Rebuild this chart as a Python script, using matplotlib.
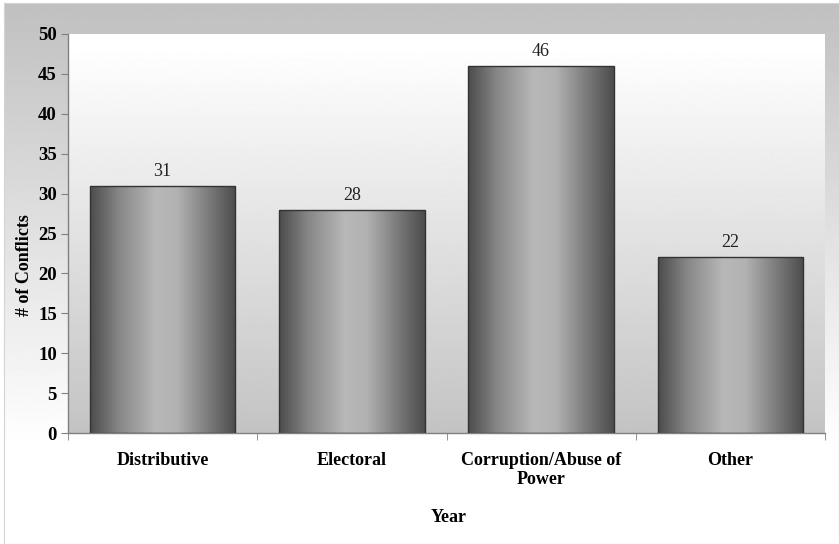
import numpy as np
import matplotlib
matplotlib.use('Agg')
import matplotlib.pyplot as plt
from matplotlib.colors import LinearSegmentedColormap

categories = ['Distributive', 'Electoral', 'Corruption/Abuse of\nPower', 'Other']
conflicts = [31, 28, 46, 22]
yticks = list(range(0, 55, 5))

plt.rcParams['font.family'] = ['Liberation Serif', 'DejaVu Serif']

W, H = 839, 544
fig = plt.figure(figsize=(W / 100, H / 100), dpi=100)
fig.patch.set_facecolor('white')


def px(l, t, r, b):
    # pixel box -> figure fraction rect
    return [l / W, 1 - b / H, (r - l) / W, (b - t) / H]


# outer chart area: grey at the top fading to white
chart = fig.add_axes(px(4, 3, 839, 544), zorder=-2)
rows = np.linspace(0, 1, 400)
outer = np.clip(0.753 + (1 - 0.753) * rows / 0.82, 0, 1)
chart.imshow(outer[:, None], cmap='gray', vmin=0, vmax=1, aspect='auto',
             extent=[0, 1, 0, 1], interpolation='bilinear')
chart.set_xticks([])
chart.set_yticks([])
for s in chart.spines.values():
    s.set_color('#d4d4d4')

# plot area: white at the top fading to grey
pos = px(68, 34, 825, 433)
back = fig.add_axes(pos, zorder=-1)
inner = np.clip(1.0 - 0.235 * (rows - 0.03) / 0.97, 0, 1)
back.imshow(inner[:, None], cmap='gray', vmin=0, vmax=1, aspect='auto',
            extent=[0, 1, 0, 1], interpolation='bilinear')
back.axis('off')

ax = fig.add_axes(pos, zorder=1)
ax.set_facecolor('none')

x = np.arange(len(categories))
width = 0.77
bars = ax.bar(x, conflicts, width, facecolor='none', edgecolor='#333333',
              linewidth=1.0, zorder=3)

bar_cmap = LinearSegmentedColormap.from_list(
    'cyl', [(0.0, '#4c4c4c'), (0.2, '#878787'), (0.45, '#b8b8b8'),
            (0.6, '#b2b2b2'), (0.85, '#727272'), (1.0, '#4c4c4c')])
shade = np.linspace(0, 1, 256)[None, :]
for b, v in zip(bars, conflicts):
    img = ax.imshow(shade, cmap=bar_cmap, aspect='auto',
                    extent=[b.get_x(), b.get_x() + b.get_width(), 0, v],
                    interpolation='bilinear', zorder=2)
    img.set_clip_path(b)
    ax.text(b.get_x() + b.get_width() / 2, v + 0.75, str(v),
            ha='center', va='bottom', fontsize=13, color='#222222')

ax.set_xlim(-0.5, len(categories) - 0.5)
ax.set_ylim(0, 50)

ax.set_yticks(yticks)
ax.set_yticklabels([str(t) for t in yticks], fontsize=13.5, fontweight='bold')
ax.set_xticks(x)
ax.set_xticklabels(categories, fontsize=13, fontweight='bold', linespacing=1.1)
ax.set_xticks(np.arange(-0.5, len(categories)), minor=True)
ax.tick_params(axis='x', which='major', length=0, pad=14)
ax.tick_params(axis='x', which='minor', length=5, direction='out', color='#808080')
ax.tick_params(axis='y', length=5, direction='out', color='#808080', pad=3)

for s in ['top', 'right']:
    ax.spines[s].set_visible(False)
for s in ['left', 'bottom']:
    ax.spines[s].set_color('#808080')
    ax.spines[s].set_linewidth(1.0)

fig.text(449 / W, 1 - 518 / H, 'Year', ha='center', va='center',
         fontsize=13, fontweight='bold')
fig.text(25 / W, 1 - 265 / H, '# of Conflicts', ha='center', va='center',
         rotation=90, fontsize=13, fontweight='bold')

fig.savefig('out.png', dpi=100)
